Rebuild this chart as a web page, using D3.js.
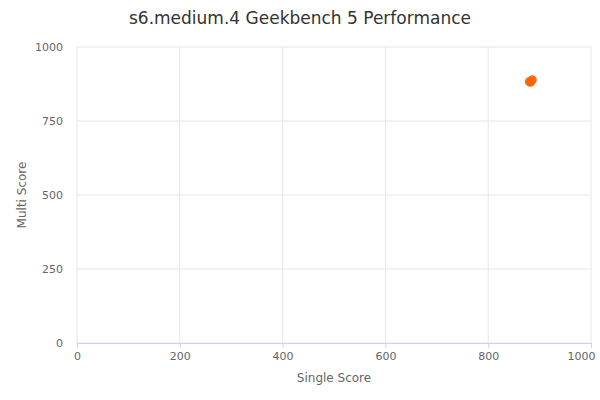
<!DOCTYPE html>
<html><head><meta charset="utf-8">
<script src="https://cdn.jsdelivr.net/npm/d3@7"></script>
<style>body{margin:0;background:#fff;font-family:"DejaVu Sans",sans-serif}</style>
</head><body><svg></svg>
<script>
// data
let singleScores = [880, 884, 882, 886, 883];
let multiScores = [883, 886, 881, 889, 884];
let xTicks = [0, 200, 400, 600, 800, 1000];
let yTicks = [0, 250, 500, 750, 1000];

let svgWidth = 600, svgHeight = 400;
let svg = d3.select("svg").attr("width", svgWidth).attr("height", svgHeight);

let x = d3.scaleLinear().domain([0, 1000]).range([77, 591]);
let y = d3.scaleLinear().domain([0, 1000]).range([343, 47]);

// grid
svg.selectAll("line.gx").data(xTicks).enter().append("line")
  .attr("x1", d => x(d)).attr("x2", d => x(d)).attr("y1", 47).attr("y2", 343)
  .attr("stroke", "#e6e6e6");
svg.selectAll("line.gy").data(yTicks).enter().append("line")
  .attr("x1", 77).attr("x2", 591).attr("y1", d => y(d)).attr("y2", d => y(d))
  .attr("stroke", "#e6e6e6");

// axes
let xAxis = svg.append("g").attr("transform", "translate(0,343)")
  .call(d3.axisBottom(x).tickValues(xTicks).tickFormat(d3.format("d")).tickSize(5).tickPadding(4));
xAxis.select(".domain").attr("stroke", "#ccd6eb");
xAxis.selectAll(".tick line").attr("stroke", "#ccd6eb");
xAxis.selectAll(".tick text").filter(d => d === 1000).attr("text-anchor", "end").attr("dx", 4);
let yAxis = svg.append("g").attr("transform", "translate(77,0)")
  .call(d3.axisLeft(y).tickValues(yTicks).tickFormat(d3.format("d")).tickSize(0).tickPadding(14));
yAxis.select(".domain").remove();
svg.selectAll(".tick text").attr("fill", "#666").attr("font-size", 11)
  .attr("font-family", "DejaVu Sans");

// points
svg.selectAll("circle").data(singleScores).enter().append("circle")
  .attr("cx", d => x(d)).attr("cy", (d, i) => y(multiScores[i]))
  .attr("r", 4.5).attr("fill", "#ff6600").attr("fill-opacity", 0.9);

// titles
svg.append("text").attr("x", 300).attr("y", 24).attr("text-anchor", "middle")
  .attr("font-size", 17).attr("fill", "#333").attr("font-family", "DejaVu Sans")
  .text("s6.medium.4 Geekbench 5 Performance");
svg.append("text").attr("x", 334).attr("y", 382).attr("text-anchor", "middle")
  .attr("font-size", 12).attr("fill", "#666").text("Single Score");
svg.append("text").attr("transform", "translate(26,195) rotate(-90)").attr("text-anchor", "middle")
  .attr("font-size", 12).attr("fill", "#666").text("Multi Score");
</script></body></html>
